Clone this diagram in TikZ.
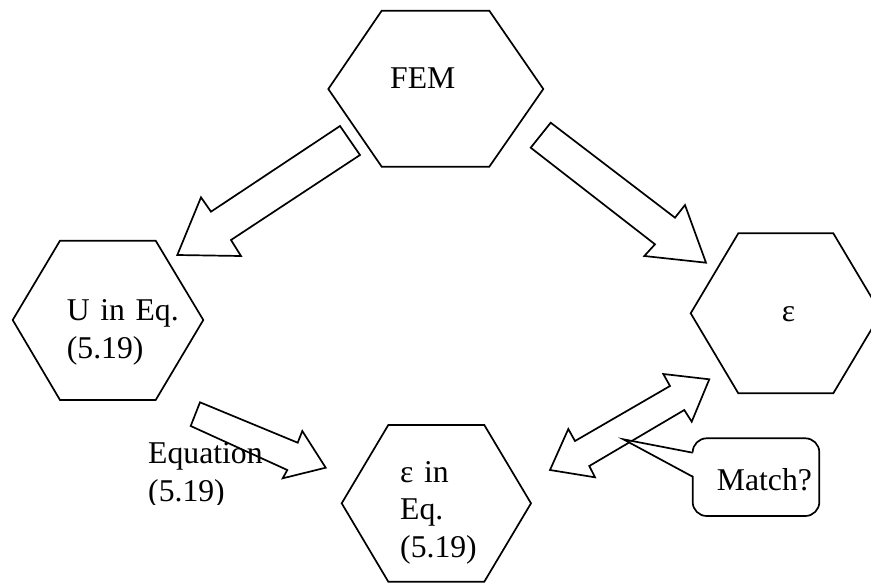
\documentclass[tikz,border=0pt]{standalone}
\usepackage{fontspec}
\setmainfont{Liberation Serif}
\begin{document}
\begin{tikzpicture}[x=1pt,y=-1pt,line join=miter,
  hexa/.style={draw=black,fill=white,line width=1.7pt},
  blockarrow/.style={draw=black,fill=white,line width=1.7pt},
  lbl/.style={inner sep=0pt,anchor=base west,text width=200pt,align=left,
              font=\fontsize{31.7}{38}\selectfont}]
\useasboundingbox (0,0) rectangle (871,584);
\begin{scope}
\clip (0,0) rectangle (871,584);
% hexagons
\draw[hexa] (381.7,10.7) -- (489.3,10.7) -- (543.3,89) -- (489.3,166.7) -- (381.7,166.7) -- (328.3,89) -- cycle;
\draw[hexa] (60,240.7) -- (155.7,240.7) -- (203.3,320) -- (155.7,400) -- (60,400) -- (12.7,320) -- cycle;
\draw[hexa] (738.3,233.3) -- (833.3,233.3) -- (881,313.3) -- (833.3,393.3) -- (738.3,393.3) -- (690.7,313.3) -- cycle;
\draw[hexa] (388.3,425) -- (484.3,425) -- (531,503.3) -- (484.3,581.7) -- (388.3,581.7) -- (341.7,503.3) -- cycle;
\end{scope}
% block arrows
\draw[blockarrow] (340,126) -- (211,211.7) -- (201,197.3) -- (177.3,255) -- (241,256) -- (231,240) -- (360,155) -- cycle;
\draw[blockarrow] (550.7,122.7) -- (675,217.7) -- (685,205) -- (706,262.7) -- (644.3,256) -- (655,244.3) -- (530.7,147.7) -- cycle;
\draw[blockarrow] (200,402.3) -- (297.7,442.7) -- (302.3,431) -- (325.7,467.7) -- (282.7,478.3) -- (287.3,470) -- (190.7,426) -- cycle;
\draw[blockarrow] (575,441) -- (670,386) -- (663.3,374) -- (709.3,379.3) -- (691.7,421.7) -- (684.3,410) -- (589.3,466) -- (595,477.3) -- (550,470) -- (568.3,429) -- cycle;
% callout
\coordinate (tip) at (623.3,439.3);
\draw[line width=1.7pt,rounded corners=14pt] (692.7,438.3) rectangle (819.3,516);
\fill[white] (tip) -- (695,452.7) -- (695,476.7) -- cycle;
\draw[line width=1.7pt] (692.7,452.7) -- (tip) -- (692.7,476.7);
% labels
\node[lbl] (fem) at (390,88.3) {FEM};
\node[lbl] (u) at (66.7,320) {U in Eq.\\(5.19)};
\node[lbl] (eps) at (781.7,321) {ε};
\node[lbl,font=\fontsize{31.7}{37.5}\selectfont] (epseq) at (400,482) {ε in\\Eq.\\(5.19)};
\node[lbl] (match) at (716.7,490) {Match?};
\begin{scope}
\clip (100,400) rectangle (300,504);
\node[lbl] (equ) at (148,463) {Equation\\(5.19)};
\end{scope}
\end{tikzpicture}
\end{document}
